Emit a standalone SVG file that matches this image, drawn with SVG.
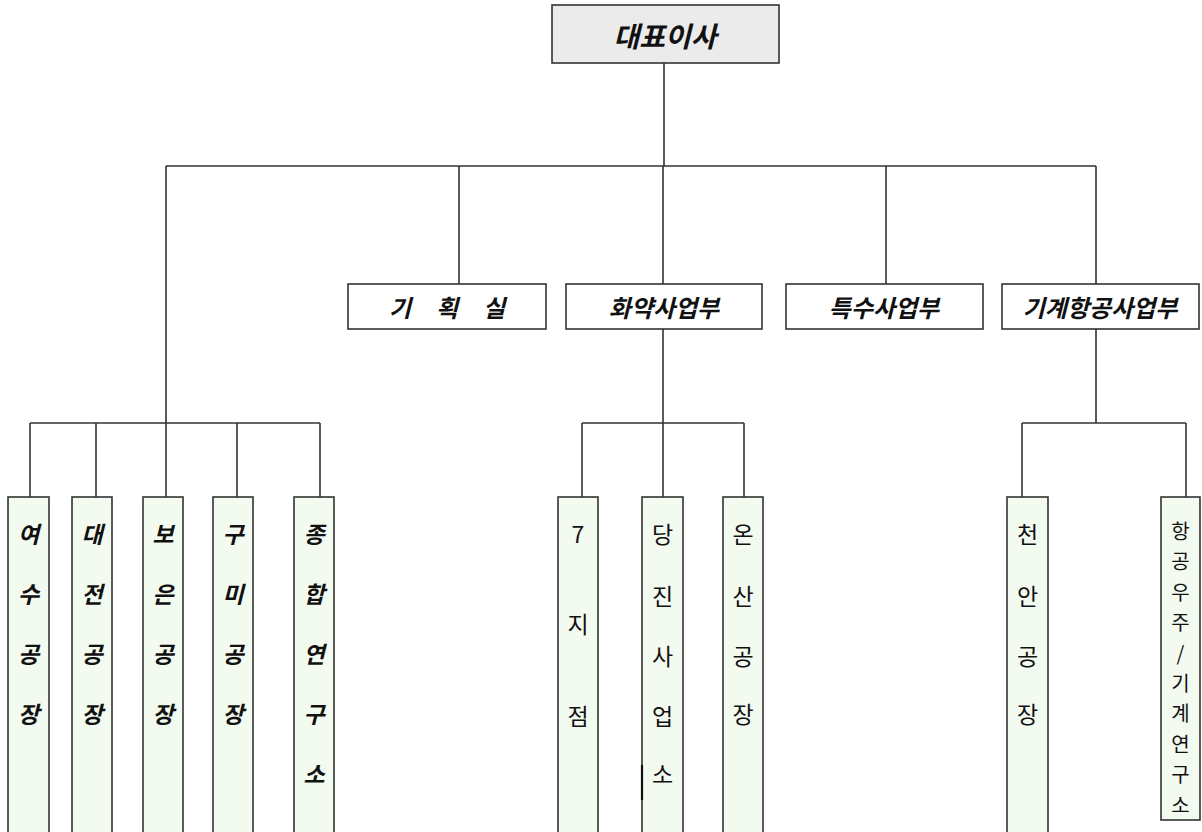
<svg xmlns="http://www.w3.org/2000/svg" width="1202" height="832" viewBox="0 0 1202 832">
<style>
.ln{stroke:#333;stroke-width:1.6;fill:none}
.box{stroke:#333;stroke-width:1.6;fill:#fff}
.top{stroke:#333;stroke-width:1.6;fill:#ebebeb}
.leaf{stroke:#333;stroke-width:1.6;fill:#f3faef}
.bi{font-family:"Noto Sans CJK KR","Liberation Sans",sans-serif;font-weight:bold;font-style:italic;fill:#111;text-anchor:middle;dominant-baseline:central}
.n{font-family:"Noto Sans CJK KR","Liberation Sans",sans-serif;font-weight:normal;fill:#111;text-anchor:middle;dominant-baseline:central;font-size:23px}
.t{font-size:20px}
.h{font-size:28px}
.m{font-size:24px}
.s{font-size:23px}
</style>
<rect width="1202" height="832" fill="#fff"/>
<g id="connectors">
<path class="ln" d="M664,63V166M166,166H1096M459,166V284M663,166V284M886,166V284M1096,166V284M166,166V423M30,423H320M30,423V497M96,423V497M166,423V497M237,423V497M320,423V497M663,329V423M582,423H744M582,423V497M663,423V497M744,423V497M1096,329V423M1022,423H1186M1022,423V497M1186,423V497"/>
</g>
<g id="ceo">
<rect class="top" x="552" y="5" width="227" height="58"/>
<text class="bi h" x="665" y="35">대표이사</text>
</g>
<g id="planning">
<rect class="box" x="348" y="284" width="198" height="45"/>
<text class="bi m" y="306"><tspan x="400">기</tspan><tspan x="447">획</tspan><tspan x="494">실</tspan></text>
</g>
<g id="explosives">
<rect class="box" x="566" y="284" width="196" height="45"/>
<text class="bi m" x="664" y="306">화약사업부</text>
</g>
<g id="special">
<rect class="box" x="786" y="284" width="197" height="45"/>
<text class="bi m" x="884" y="306">특수사업부</text>
</g>
<g id="machinery">
<rect class="box" x="1002" y="284" width="197" height="45"/>
<text class="bi m" x="1100" y="306">기계항공사업부</text>
</g>
<g id="yeosu">
<rect class="leaf" x="8" y="497" width="41" height="345"/>
<text class="bi s"><tspan x="28.5" y="533">여</tspan><tspan x="28.5" y="593">수</tspan><tspan x="28.5" y="653">공</tspan><tspan x="28.5" y="713">장</tspan></text>
</g>
<g id="daejeon">
<rect class="leaf" x="72" y="497" width="40" height="345"/>
<text class="bi s"><tspan x="92" y="533">대</tspan><tspan x="92" y="593">전</tspan><tspan x="92" y="653">공</tspan><tspan x="92" y="713">장</tspan></text>
</g>
<g id="boeun">
<rect class="leaf" x="143" y="497" width="40" height="345"/>
<text class="bi s"><tspan x="163" y="533">보</tspan><tspan x="163" y="593">은</tspan><tspan x="163" y="653">공</tspan><tspan x="163" y="713">장</tspan></text>
</g>
<g id="gumi">
<rect class="leaf" x="213" y="497" width="40" height="345"/>
<text class="bi s"><tspan x="233" y="533">구</tspan><tspan x="233" y="593">미</tspan><tspan x="233" y="653">공</tspan><tspan x="233" y="713">장</tspan></text>
</g>
<g id="research">
<rect class="leaf" x="294" y="497" width="40" height="345"/>
<text class="bi s"><tspan x="314" y="533">종</tspan><tspan x="314" y="593">합</tspan><tspan x="314" y="653">연</tspan><tspan x="314" y="713">구</tspan><tspan x="314" y="773">소</tspan></text>
</g>
<g id="branch7">
<rect class="leaf" x="558" y="497" width="40" height="345"/>
<text class="n"><tspan x="578" y="533">7</tspan><tspan x="578" y="623">지</tspan><tspan x="578" y="715">점</tspan></text>
</g>
<g id="dangjin">
<rect class="leaf" x="642" y="497" width="41" height="345"/>
<text class="n"><tspan x="662.5" y="533">당</tspan><tspan x="662.5" y="595">진</tspan><tspan x="662.5" y="655">사</tspan><tspan x="662.5" y="715">업</tspan><tspan x="662.5" y="773">소</tspan></text>
<line x1="642" y1="765" x2="642" y2="800" stroke="#111" stroke-width="2.2"/>
</g>
<g id="onsan">
<rect class="leaf" x="723" y="497" width="40" height="345"/>
<text class="n"><tspan x="743" y="533">온</tspan><tspan x="743" y="595">산</tspan><tspan x="743" y="655">공</tspan><tspan x="743" y="713">장</tspan></text>
</g>
<g id="cheonan">
<rect class="leaf" x="1007" y="497" width="41" height="345"/>
<text class="n"><tspan x="1027.5" y="533">천</tspan><tspan x="1027.5" y="595">안</tspan><tspan x="1027.5" y="655">공</tspan><tspan x="1027.5" y="713">장</tspan></text>
</g>
<g id="aerospace">
<rect class="leaf" x="1161" y="497" width="39" height="323"/>
<text class="n t"><tspan x="1180.5" y="530">항</tspan><tspan x="1180.5" y="560.4">공</tspan><tspan x="1180.5" y="590.8">우</tspan><tspan x="1180.5" y="621.2">주</tspan><tspan x="1180.5" y="651.6">/</tspan><tspan x="1180.5" y="682">기</tspan><tspan x="1180.5" y="712.4">계</tspan><tspan x="1180.5" y="742.8">연</tspan><tspan x="1180.5" y="773.2">구</tspan><tspan x="1180.5" y="803.6">소</tspan></text>
</g>
</svg>
